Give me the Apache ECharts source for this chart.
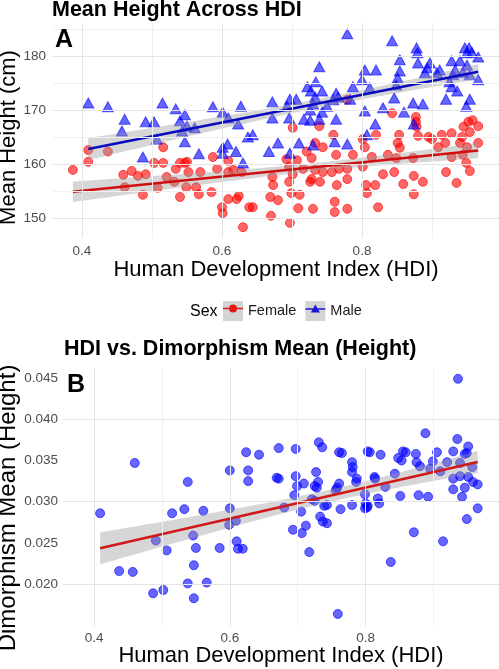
<!DOCTYPE html>
<html><head><meta charset="utf-8">
<script src="https://cdn.jsdelivr.net/npm/echarts@6/dist/echarts.min.js"></script>
<style>html,body{margin:0;padding:0;background:#fff}#c{width:499px;height:669px}</style>
</head><body><div id="c"></div>
<script>
// ---------- DATA ----------
const femalePts = [
[0.387,158.9],[0.409,162.6],[0.409,160.4],[0.437,162.3],[0.459,158.0],[0.461,155.7],[0.471,158.7],[0.480,157.8],[0.491,158.1],[0.487,154.3],[0.503,160.2],[0.516,160.2],[0.516,163.1],[0.521,157.6],[0.508,155.6],[0.534,159.1],[0.532,156.7],[0.540,160.2],[0.547,160.2],[0.550,160.4],[0.552,158.5],[0.549,155.7],[0.540,153.9],[0.569,158.5],[0.563,155.7],[0.567,154.4],[0.587,161.3],[0.593,159.1],[0.585,154.8],[0.609,160.6],[0.609,158.5],[0.616,158.9],[0.600,152.0],[0.601,150.9],[0.609,153.5],[0.621,153.5],[0.624,154.1],[0.630,148.3],[0.628,158.5],[0.639,152.0],
[0.644,152.0],[0.670,150.4],[0.669,153.9],[0.680,153.3],[0.672,157.6],[0.673,156.1],[0.692,160.9],[0.696,159.5],[0.696,156.7],[0.699,154.6],[0.701,158.1],[0.707,160.7],[0.711,154.3],[0.709,151.8],[0.697,149.1],[0.716,159.1],[0.721,162.3],[0.728,161.1],[0.726,156.7],[0.728,157.2],[0.730,151.7],[0.733,158.9],[0.740,156.7],[0.744,158.5],[0.757,158.5],[0.763,161.7],[0.764,156.1],[0.761,153.0],[0.761,151.1],[0.767,159.1],[0.779,159.1],[0.779,157.2],[0.779,151.7],[0.787,161.7],[0.801,159.5],[0.806,156.1],[0.807,154.6],[0.814,161.3],[0.819,156.1],[0.823,152.0],[0.830,158.1],[0.837,161.7],[0.846,158.5],[0.849,161.1],[0.854,163.0],[0.859,156.3],[0.873,161.1],[0.874,157.8],[0.874,154.4],[0.887,156.7],[0.920,158.5],[0.928,161.3],[0.935,156.5],[0.949,160.2],[0.954,158.7],[0.944,161.7],[0.966,163.9],
[0.779,171.9],[0.701,166.7],[0.739,167.0],[0.843,169.4],[0.877,168.7],[0.877,167.8],[0.878,166.9],[0.880,165.2],[0.895,165.0],[0.900,164.6],[0.914,165.4],[0.928,165.7],[0.943,165.0],[0.945,166.9],[0.952,167.8],[0.958,168.1],[0.954,165.9],[0.966,167.0],[0.940,163.9],[0.820,165.4],[0.801,164.6],[0.804,163.1],[0.759,165.4],[0.733,163.9],[0.744,163.1],[0.853,165.4],[0.851,163.9],[0.919,163.9],[0.950,163.1],[0.909,163.1]
];
const malePts = [
[0.409,171.3],[0.437,170.6],[0.461,168.3],[0.457,166.1],[0.491,167.8],[0.503,167.8],[0.515,171.3],[0.534,170.2],[0.547,169.1],[0.540,168.0],[0.550,167.0],[0.543,166.1],[0.561,166.7],[0.507,164.6],[0.547,164.1],[0.587,170.6],[0.601,169.6],[0.609,168.5],[0.623,167.4],[0.627,170.7],[0.601,163.1],[0.608,163.7],[0.637,165.0],[0.487,161.3],[0.567,161.9],[0.601,162.0],[0.620,162.3],[0.630,160.2],
[0.680,163.9],[0.710,163.9],[0.697,162.0],[0.730,163.5],[0.761,164.1],[0.779,163.7],[0.667,162.3],[0.644,165.4],[0.807,165.4],
[0.779,184.1],[0.843,182.8],[0.878,181.5],[0.879,180.6],[0.947,181.5],[0.953,181.5],[0.950,180.6],[0.957,180.7],[0.966,179.8],[0.739,178.0],[0.854,179.3],[0.880,178.7],[0.897,178.7],[0.928,179.1],[0.940,179.1],[0.804,177.4],[0.820,177.4],[0.854,177.2],[0.893,177.8],[0.911,177.4],[0.933,177.4],[0.950,178.3],[0.800,175.6],[0.851,175.9],[0.890,176.9],[0.907,176.9],[0.930,176.5],[0.944,177.0],[0.954,176.5],[0.966,175.6],[0.734,175.2],[0.722,174.3],[0.727,173.5],[0.743,173.5],[0.763,173.1],[0.787,174.3],[0.811,174.1],[0.849,174.6],[0.925,175.2],[0.928,174.3],[0.936,173.5],[0.672,171.5],[0.697,172.0],[0.706,172.0],[0.693,170.7],[0.733,172.4],[0.759,171.9],[0.766,172.4],[0.783,172.0],[0.730,171.1],[0.750,170.7],[0.726,170.0],[0.743,169.6],[0.804,169.8],[0.830,170.4],[0.846,172.2],[0.873,171.3],[0.887,171.1],[0.860,169.6],[0.954,172.0],[0.949,170.7],[0.920,172.0],[0.672,168.5],[0.696,168.5],[0.717,168.3],[0.739,168.3],[0.763,168.3],[0.819,167.4],[0.874,167.4],[0.726,168.1]
];
const dimPts = [
[0.936,0.0449],[0.460,0.0347],[0.409,0.0286],[0.538,0.0324],[0.515,0.0286],[0.533,0.0291],[0.561,0.0289],[0.600,0.0338],[0.600,0.0292],[0.599,0.0272],[0.609,0.0277],[0.624,0.0360],[0.627,0.0338],[0.627,0.0325],
[0.491,0.0253],[0.507,0.0241],[0.437,0.0216],[0.457,0.0215],[0.487,0.0189],[0.502,0.0193],[0.546,0.0259],[0.550,0.0244],[0.547,0.0223],[0.538,0.0201],[0.547,0.0183],[0.566,0.0202],[0.585,0.0244],[0.610,0.0252],[0.612,0.0243],[0.619,0.0243],
[0.888,0.0383],[0.935,0.0376],[0.951,0.0367],[0.731,0.0372],[0.736,0.0366],[0.672,0.0365],[0.697,0.0364],[0.643,0.0357],[0.761,0.0360],[0.765,0.0359],[0.803,0.0361],[0.806,0.0360],[0.822,0.0357],[0.855,0.0361],[0.859,0.0360],[0.874,0.0358],[0.848,0.0353],[0.853,0.0350],[0.905,0.0360],[0.929,0.0361],[0.946,0.0358],[0.949,0.0359],[0.899,0.0349],[0.920,0.0348],[0.875,0.0348],[0.880,0.0343],[0.780,0.0348],[0.781,0.0342],[0.780,0.0336],[0.939,0.0347],[0.957,0.0342],[0.895,0.0340],[0.910,0.0337],[0.669,0.0329],[0.672,0.0328],[0.697,0.0331],[0.727,0.0336],[0.699,0.0319],[0.709,0.0322],[0.730,0.0324],[0.725,0.0319],[0.728,0.0317],[0.761,0.0322],[0.758,0.0317],[0.787,0.0328],[0.786,0.0324],[0.813,0.0330],[0.814,0.0328],[0.843,0.0334],[0.829,0.0318],[0.929,0.0328],[0.939,0.0331],[0.951,0.0330],[0.958,0.0324],[0.965,0.0321],[0.929,0.0315],[0.946,0.0317],[0.942,0.0306],[0.695,0.0308],[0.721,0.0303],[0.725,0.0301],[0.756,0.0314],[0.799,0.0309],[0.800,0.0298],[0.803,0.0295],[0.818,0.0304],[0.820,0.0298],[0.799,0.0292],[0.802,0.0293],[0.851,0.0307],[0.878,0.0308],[0.892,0.0306],[0.780,0.0296],[0.763,0.0291],[0.743,0.0296],[0.739,0.0295],[0.680,0.0293],[0.705,0.0288],[0.965,0.0292],[0.733,0.0282],[0.737,0.0276],[0.743,0.0274],[0.712,0.0271],[0.693,0.0266],[0.949,0.0279],[0.871,0.0263],
[0.706,0.0262],[0.717,0.0239],[0.914,0.0252],[0.837,0.0227],[0.759,0.0164]
];
const xTicks = [0.4, 0.6, 0.8];
const xMinor = [0.5, 0.7, 0.9];
const yTicksA = [150, 160, 170, 180];
const yMinorA = [155, 165, 175, 185];
const yTicksB = [0.020, 0.025, 0.030, 0.035, 0.040, 0.045];
const yMinorB = [0.0175, 0.0225, 0.0275, 0.0325, 0.0375, 0.0425];

// ---------- linear fit with 95% CI (like geom_smooth(method="lm")) ----------
function lmFit(pts, nSteps) {
  const n = pts.length;
  let sx = 0, sy = 0;
  pts.forEach(p => { sx += p[0]; sy += p[1]; });
  const mx = sx / n, my = sy / n;
  let sxx = 0, sxy = 0;
  pts.forEach(p => { sxx += (p[0]-mx)*(p[0]-mx); sxy += (p[0]-mx)*(p[1]-my); });
  const b = sxy / sxx, a = my - b * mx;
  let sse = 0;
  pts.forEach(p => { const r = p[1] - (a + b*p[0]); sse += r*r; });
  const s = Math.sqrt(sse / (n - 2));
  const t = 1.98;
  const xs = pts.map(p => p[0]);
  const x0 = Math.min(...xs), x1 = Math.max(...xs);
  const line = [[x0, a + b*x0], [x1, a + b*x1]];
  const upper = [], lower = [];
  for (let i = 0; i <= nSteps; i++) {
    const x = x0 + (x1 - x0) * i / nSteps;
    const yh = a + b*x;
    const se = s * Math.sqrt(1/n + (x-mx)*(x-mx)/sxx);
    upper.push([x, yh + t*se]);
    lower.push([x, yh - t*se]);
  }
  return {line, upper, lower};
}
const fitF = lmFit(femalePts, 60);
const fitM = lmFit(malePts, 60);
const fitD = lmFit(dimPts, 60);

function bandSeries(fit, xi, yi) {
  return {
    type: 'custom', xAxisIndex: xi, yAxisIndex: yi, silent: true, z: 3,
    data: [0],
    renderItem: function (params, api) {
      const pts = fit.upper.map(p => api.coord(p)).concat(fit.lower.slice().reverse().map(p => api.coord(p)));
      return {type: 'polygon', shape: {points: pts}, style: {fill: 'rgba(153,153,153,0.4)'}};
    }
  };
}
function gridSeries(xi, yi, xMaj, xMin, yMaj, yMin) {
  const maj = {color: '#E4E4E4', width: 1, type: 'solid'};
  const mnr = {color: '#F0F0F0', width: 1, type: 'solid'};
  const d = [];
  xMin.forEach(v => d.push({xAxis: v, lineStyle: mnr}));
  yMin.forEach(v => d.push({yAxis: v, lineStyle: mnr}));
  xMaj.forEach(v => d.push({xAxis: v, lineStyle: maj}));
  yMaj.forEach(v => d.push({yAxis: v, lineStyle: maj}));
  return {
    type: 'line', xAxisIndex: xi, yAxisIndex: yi, data: [], z: 1, silent: true,
    markLine: {silent: true, symbol: ['none', 'none'], label: {show: false}, animation: false, data: d}
  };
}

const FONT = 'Liberation Sans, Arial, Helvetica, sans-serif';
const chart = echarts.init(document.getElementById('c'), null, {renderer: 'canvas'});
const tickLabel = {color: '#4D4D4D', fontSize: 13.5, fontFamily: FONT};
const axisNameStyle = {color: '#000', fontSize: 22, fontFamily: FONT};

const legendBase = {
  orient: 'horizontal', left: 223, top: 301, padding: 0, itemWidth: 20, itemHeight: 20, itemGap: 9,
  selectedMode: false, textStyle: {fontSize: 14.5, fontFamily: FONT, color: '#1A1A1A'}
};
function titleItem(text, left, top, size, weight) {
  return {text: text, left: left, top: top, padding: 0,
          textStyle: {fontSize: size, fontWeight: weight, color: '#000', fontFamily: FONT}};
}

const option = {
  animation: false,
  backgroundColor: '#fff',
  textStyle: {fontFamily: FONT},
  title: [
    titleItem('Mean Height Across HDI', 52, -1, 21.5, 'bold'),
    titleItem('A', 55, 28, 25, 'bold'),
    titleItem('Sex', 190, 304, 16, 'normal'),
    titleItem('HDI vs. Dimorphism Mean (Height)', 64, 338, 21.5, 'bold'),
    titleItem('B', 67, 373, 25, 'bold')
  ],
  legend: [
    Object.assign({}, legendBase, {
      data: [{name: 'Female', icon: 'rect', itemStyle: {color: '#D4D4D4', borderWidth: 0, borderColor: 'transparent'}},
             {name: 'Male', icon: 'rect', itemStyle: {color: '#D4D4D4', borderWidth: 0, borderColor: 'transparent'}}]
    }),
    Object.assign({}, legendBase, {
      textStyle: {fontSize: 14.5, fontFamily: FONT, color: 'rgba(0,0,0,0)'},
      data: [
        {name: 'Female', icon: 'path://M0,9.2 L20,9.2 L20,10.8 L0,10.8 Z M6,10 A4,4 0 1,1 14,10 A4,4 0 1,1 6,10 Z', itemStyle: {color: '#E01818', borderWidth: 0}},
        {name: 'Male', icon: 'path://M0,9.2 L20,9.2 L20,10.8 L0,10.8 Z M10,5.5 L14.5,13.5 L5.5,13.5 Z', itemStyle: {color: '#1818D8', borderWidth: 0}}
      ]
    })
  ],
  grid: [
    {left: 53, right: 0, top: 23, height: 215, containLabel: false, outerBoundsMode: 'none'},
    {left: 63, right: 0, top: 368, height: 258, containLabel: false, outerBoundsMode: 'none'}
  ],
  xAxis: [
    {type: 'value', gridIndex: 0, min: 0.3586, max: 0.9957,
     name: 'Human Development Index (HDI)', nameLocation: 'middle', nameGap: 21, nameMoveOverlap: false, nameTextStyle: axisNameStyle,
     axisLine: {show: false}, axisTick: {show: false}, splitLine: {show: false},
     axisLabel: Object.assign({customValues: xTicks, margin: 6, formatter: v => v.toFixed(1)}, tickLabel)},
    {type: 'value', gridIndex: 1, min: 0.3543, max: 0.9964,
     name: 'Human Development Index (HDI)', nameLocation: 'middle', nameGap: 19, nameMoveOverlap: false, nameTextStyle: axisNameStyle,
     axisLine: {show: false}, axisTick: {show: false}, splitLine: {show: false},
     axisLabel: Object.assign({customValues: xTicks, margin: 5, formatter: v => v.toFixed(1)}, tickLabel)}
  ],
  yAxis: [
    {type: 'value', gridIndex: 0, min: 146.3, max: 186.1,
     name: 'Mean Height (cm)', nameLocation: 'middle', nameGap: 33, nameMoveOverlap: false,
     nameTextStyle: Object.assign({}, axisNameStyle, {padding: [0, 14, 0, 0]}),
     axisLine: {show: false}, axisTick: {show: false}, splitLine: {show: false},
     axisLabel: Object.assign({customValues: yTicksA, margin: 7, formatter: v => String(Math.round(v))}, tickLabel)},
    {type: 'value', gridIndex: 1, min: 0.01494, max: 0.04621,
     name: 'Dimorphism Mean (Height)', nameLocation: 'middle', nameGap: 43, nameMoveOverlap: false,
     nameTextStyle: Object.assign({}, axisNameStyle, {fontSize: 24, padding: [0, 22, 0, 0]}),
     axisLine: {show: false}, axisTick: {show: false}, splitLine: {show: false},
     axisLabel: Object.assign({customValues: yTicksB, margin: 5, formatter: v => v.toFixed(3)}, tickLabel)}
  ],
  series: [
    gridSeries(0, 0, xTicks, xMinor, yTicksA, yMinorA),
    gridSeries(1, 1, xTicks, xMinor, yTicksB, yMinorB),
    {name: 'Female', type: 'scatter', xAxisIndex: 0, yAxisIndex: 0, z: 2, data: femalePts,
     symbol: 'circle', symbolSize: 9,
     itemStyle: {color: 'rgba(255,0,0,0.6)', borderColor: 'rgba(255,0,0,0.6)', borderWidth: 1, opacity: 1}},
    {name: 'Male', type: 'scatter', xAxisIndex: 0, yAxisIndex: 0, z: 2, data: malePts,
     symbol: 'triangle', symbolSize: [11, 10],
     itemStyle: {color: 'rgba(0,0,255,0.6)', borderColor: 'rgba(0,0,255,0.6)', borderWidth: 1, opacity: 1}},
    bandSeries(fitF, 0, 0),
    bandSeries(fitM, 0, 0),
    {name: 'Female', type: 'line', xAxisIndex: 0, yAxisIndex: 0, z: 4, data: fitF.line, symbol: 'none', silent: true,
     lineStyle: {color: '#D01010', width: 2.5}, itemStyle: {color: '#E01818'}},
    {name: 'Male', type: 'line', xAxisIndex: 0, yAxisIndex: 0, z: 4, data: fitM.line, symbol: 'none', silent: true,
     lineStyle: {color: '#0A0AC0', width: 2.5}, itemStyle: {color: '#1818D8'}},
    {name: 'dim', type: 'scatter', xAxisIndex: 1, yAxisIndex: 1, z: 2, data: dimPts,
     symbol: 'circle', symbolSize: 9,
     itemStyle: {color: 'rgba(0,0,255,0.6)', borderColor: 'rgba(0,0,255,0.6)', borderWidth: 1, opacity: 1}},
    bandSeries(fitD, 1, 1),
    {name: 'dimfit', type: 'line', xAxisIndex: 1, yAxisIndex: 1, z: 4, data: fitD.line, symbol: 'none', silent: true,
     lineStyle: {color: '#D01818', width: 2.5}}
  ]
};
chart.setOption(option);
</script>
</body></html>
